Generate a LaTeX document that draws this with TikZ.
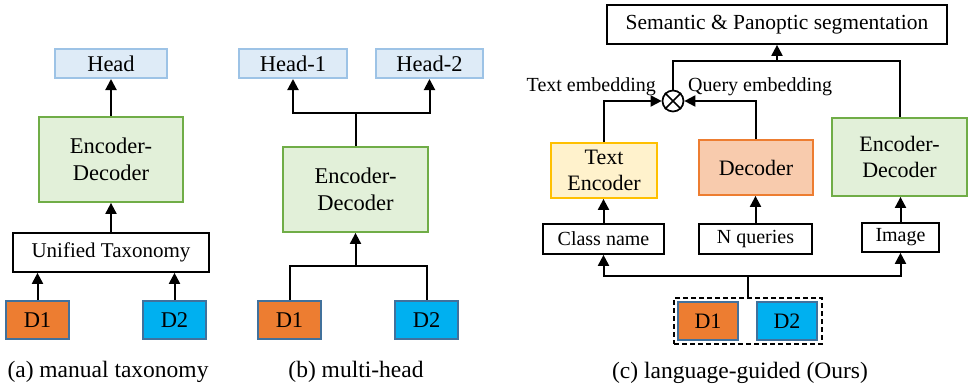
\documentclass[tikz,border=0pt]{standalone}
\usepackage{fontspec}
\setmainfont{Liberation Serif}
\usetikzlibrary{arrows.meta,calc}
\definecolor{headfill}{HTML}{DEEBF7}
\definecolor{headdraw}{HTML}{9DC3E6}
\definecolor{edfill}{HTML}{E2F0D9}
\definecolor{eddraw}{HTML}{70AD47}
\definecolor{dorange}{HTML}{ED7D31}
\definecolor{dblue}{HTML}{00B0F0}
\definecolor{dborder}{HTML}{41719C}
\definecolor{tefill}{HTML}{FFF2CC}
\definecolor{tedraw}{HTML}{FFC000}
\definecolor{decfill}{HTML}{F8CBAD}
\tikzset{
  bx/.style={rectangle, inner sep=0pt, align=center},
  bigtxt/.style={font=\fontsize{22.5}{27}\selectfont},
  smalltxt/.style={font=\fontsize{20}{24}\selectfont},
  headbox/.style={bx, bigtxt, fill=headfill, draw=headdraw, line width=2pt},
  edbox/.style={bx, bigtxt, fill=edfill, draw=eddraw, line width=1.8pt},
  plainbox/.style={bx, draw=black, line width=1.7pt, fill=white},
  dbox/.style={bx, bigtxt, draw=dborder, line width=1.8pt},
  arr/.style={line width=2pt, -{Triangle[length=11pt,width=11pt]}},
  ln/.style={line width=2pt},
  captxt/.style={font=\fontsize{23.5}{28}\selectfont, anchor=base},
}
\begin{document}
\begin{tikzpicture}[x=1pt,y=-1pt]
\useasboundingbox (0,0) rectangle (969,383);
% ---------- (a)
\node[headbox, minimum width=112, minimum height=29] (headA) at (111,63.5) {Head};
\node[edbox, minimum width=144, minimum height=85] (edA) at (111,159.5) {Encoder-\\Decoder};
\node[plainbox, font=\fontsize{21}{25}\selectfont, minimum width=196, minimum height=39] (utA) at (111,252.5) {Unified Taxonomy};
\node[dbox, fill=dorange, minimum width=63, minimum height=38] (d1A) at (37.5,320) {D1};
\node[dbox, fill=dblue, minimum width=63, minimum height=38] (d2A) at (174.5,320) {D2};
\draw[arr] (d1A.north) -- (d1A.north |- utA.south);
\draw[arr] (d2A.north) -- (d2A.north |- utA.south);
\draw[arr] (utA.north) -- (edA.south);
\draw[arr] (edA.north) -- (headA.south);
\node[captxt] (capA) at (108,377) {(a) manual taxonomy};
% ---------- (b)
\node[headbox, minimum width=108, minimum height=29] (h1B) at (293,63.5) {Head-1};
\node[headbox, minimum width=107, minimum height=29] (h2B) at (429.5,63.5) {Head-2};
\node[edbox, minimum width=145, minimum height=85] (edB) at (355.5,189.5) {Encoder-\\Decoder};
\node[dbox, fill=dorange, minimum width=63, minimum height=38] (d1B) at (289.5,320) {D1};
\node[dbox, fill=dblue, minimum width=63, minimum height=38] (d2B) at (426.5,320) {D2};
\coordinate (jtB) at (355.5,113);
\coordinate (jbB) at (355.5,266);
\draw[ln] (edB.north) -- (jtB);
\draw[arr] (jtB) -| (h1B.south);
\draw[arr] (jtB) -| (h2B.south);
\draw[ln] (d1B.north) |- (jbB) -| (d2B.north);
\draw[arr] (jbB) -- (edB.south);
\node[captxt] (capB) at (356,377) {(b) multi-head};
% ---------- (c)
\node[plainbox, font=\fontsize{21.5}{26}\selectfont, minimum width=340, minimum height=39] (sem) at (777,24.5) {Semantic \& Panoptic segmentation};
\node[circle, draw=black, line width=1.7pt, minimum size=21, inner sep=0pt, fill=white] (circ) at (673,101) {};
\draw[line width=1.7pt] (circ.north west) -- (circ.south east) (circ.north east) -- (circ.south west);
\node[bx, fill=tefill, draw=tedraw, line width=1.8pt, minimum width=106, minimum height=55, font=\fontsize{22}{26}\selectfont] (teC) at (604,170.5) {Text\\Encoder};
\node[bx, fill=decfill, draw=dorange, line width=1.8pt, minimum width=114, minimum height=55, font=\fontsize{22}{26}\selectfont] (decC) at (756,167.5) {Decoder};
\node[edbox, minimum width=135, minimum height=78, font=\fontsize{22}{26}\selectfont] (edC) at (899.5,157) {Encoder-\\Decoder};
\node[plainbox, smalltxt, minimum width=121, minimum height=30] (cnC) at (603.5,239) {Class name};
\node[plainbox, smalltxt, minimum width=113, minimum height=30] (nqC) at (755.5,239) {N queries};
\node[plainbox, smalltxt, minimum width=77, minimum height=29] (imC) at (900.5,237.5) {Image};
\node[bx, draw=black, line width=1.6pt, dash pattern=on 5pt off 3pt, minimum width=148, minimum height=46] (grpC) at (748,321) {};
\node[dbox, fill=dorange, minimum width=60, minimum height=38, font=\fontsize{22}{26}\selectfont] (d1C) at (708,321) {D1};
\node[dbox, fill=dblue, minimum width=60, minimum height=38, font=\fontsize{22}{26}\selectfont] (d2C) at (787,321) {D2};
\node[smalltxt, anchor=east, inner sep=0pt] (teL) at (656,87) {Text embedding};
\node[smalltxt, anchor=west, inner sep=0pt] (qeL) at (688,87) {Query embedding};
\coordinate (tlC) at (673,61);
\coordinate (bjC) at (748,276);
\draw[arr] (teC.north) |- (circ.west);
\draw[arr] (decC.north) |- (circ.east);
\draw[ln] (circ.north) -- (circ.north |- tlC) -| (edC.north);
\draw[arr] (sem.south |- tlC) -- (sem.south);
\draw[arr] (cnC.north) -- (cnC.north |- teC.south);
\draw[arr] (nqC.north) -- (nqC.north |- decC.south);
\draw[arr] (imC.north) -- (imC.north |- edC.south);
\draw[ln] (grpC.north) -- (bjC);
\draw[arr] (bjC) -| (cnC.south);
\draw[arr] (bjC) -| (imC.south);
\node[captxt] (capC) at (740,378) {(c) language-guided (Ours)};
\end{tikzpicture}
\end{document}
